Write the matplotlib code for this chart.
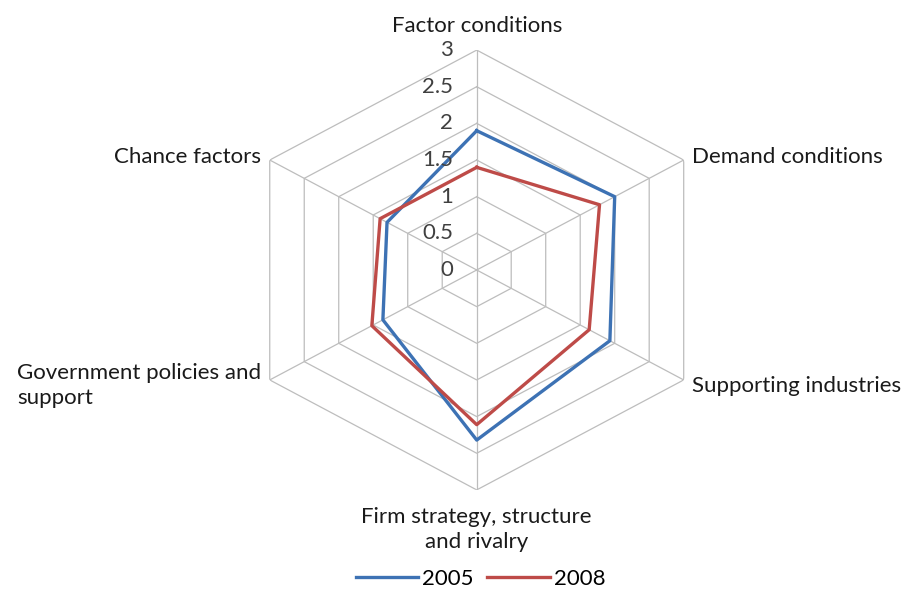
import numpy as np
import matplotlib
matplotlib.use("Agg")
import matplotlib.pyplot as plt

categories = ["Factor conditions", "Demand conditions", "Supporting industries",
              "Firm strategy, structure\nand rivalry", "Government policies and\nsupport",
              "Chance factors"]
series_2005 = [1.9, 2.0, 1.93, 2.32, 1.36, 1.3]
series_2008 = [1.4, 1.78, 1.63, 2.11, 1.52, 1.4]
ring_ticks = [0, 0.5, 1, 1.5, 2, 2.5, 3]
ring_labels = ["0", "0.5", "1", "1.5", "2", "2.5", "3"]

plt.rcParams['font.family'] = ['Lato', 'DejaVu Sans']
fig = plt.figure(figsize=(9.07, 5.96), dpi=100)
ax = fig.add_axes([0.2621, 0.178, 0.527, 0.738], projection='polar')
ax.set_aspect('auto')
ax.set_theta_offset(np.pi / 2)
ax.set_theta_direction(-1)
ax.set_ylim(0, 3)
ax.grid(False)
ax.spines['polar'].set_visible(False)
ax.set_xticks([])
ax.set_yticks([])
ax.patch.set_alpha(0)

n = len(categories)
angles = np.linspace(0, 2 * np.pi, n, endpoint=False)
closed = np.concatenate([angles, angles[:1]])
gridc = '#bdbdbd'
for r in ring_ticks[1:]:
    ax.plot(closed, [r] * (n + 1), color=gridc, lw=0.9, zorder=1)
for a in angles:
    ax.plot([a, a], [0, 3], color=gridc, lw=0.9, zorder=1)

ax.plot(closed, series_2005 + series_2005[:1], color='#3D72B4', lw=2.4, label='2005', zorder=3)
ax.plot(closed, series_2008 + series_2008[:1], color='#BE4B48', lw=2.4, label='2008', zorder=4)

for v, lab in zip(ring_ticks, ring_labels):
    ax.annotate(lab, xy=(0, v), xytext=(-17, 0), textcoords='offset points',
                ha='right', va='center', fontsize=16, color='#404040')

offsets = [((0, 10), 'center', 'bottom', 'center'),
           ((6, 2), 'left', 'center', 'left'),
           ((6, -4), 'left', 'center', 'left'),
           ((0, -12), 'center', 'top', 'center'),
           ((-6, -4), 'right', 'center', 'left'),
           ((-6, 2), 'right', 'center', 'left')]
for a, lab, (off, ha, va, ma) in zip(angles, categories, offsets):
    ax.annotate(lab, xy=(a, 3), xytext=off, textcoords='offset points',
                ha=ha, va=va, multialignment=ma, fontsize=16, color='#1a1a1a',
                linespacing=1.35)

fig.legend(loc='lower center', bbox_to_anchor=(0.53, -0.022), ncol=2, frameon=False,
           fontsize=16, handlelength=2.8, columnspacing=0.6, handletextpad=0.2)

fig.savefig('out.png', dpi=100)
